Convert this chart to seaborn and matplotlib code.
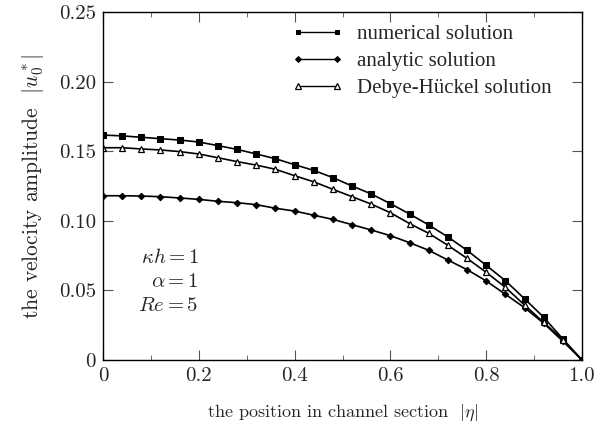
import numpy as np
import pandas as pd
import matplotlib
matplotlib.use("Agg")
import matplotlib.pyplot as plt
import seaborn as sns
from matplotlib.ticker import MultipleLocator, FixedLocator

eta = [0.00, 0.04, 0.08, 0.12, 0.16, 0.20, 0.24, 0.28, 0.32, 0.36, 0.40, 0.44, 0.48,
       0.52, 0.56, 0.60, 0.64, 0.68, 0.72, 0.76, 0.80, 0.84, 0.88, 0.92, 0.96, 1.00]
numerical = [0.1616, 0.1610, 0.1600, 0.1590, 0.1580, 0.1566, 0.1540, 0.1513, 0.1480,
             0.1446, 0.1403, 0.1362, 0.1310, 0.1250, 0.1193, 0.1123, 0.1049, 0.0970,
             0.0884, 0.0788, 0.0680, 0.0570, 0.0440, 0.0307, 0.0151, 0.0]
analytic = [0.1180, 0.1180, 0.1178, 0.1173, 0.1164, 0.1154, 0.1140, 0.1130, 0.1116,
            0.1090, 0.1070, 0.1040, 0.1010, 0.0972, 0.0934, 0.0893, 0.0843, 0.0788,
            0.0718, 0.0649, 0.0568, 0.0472, 0.0376, 0.0264, 0.0135, 0.0]
debye = [0.1525, 0.1525, 0.1516, 0.1509, 0.1497, 0.1480, 0.1453, 0.1425, 0.1400,
         0.1370, 0.1324, 0.1280, 0.1226, 0.1173, 0.1120, 0.1058, 0.0980, 0.0910,
         0.0824, 0.0730, 0.0630, 0.0522, 0.0395, 0.0270, 0.0145, 0.0]
labels = ["numerical solution", "analytic solution", "Debye-Hückel solution"]
xticks = [0, 0.2, 0.4, 0.6, 0.8, 1.0]
xticklabels = ["0", "0.2", "0.4", "0.6", "0.8", "1.0"]
yticks = [0, 0.05, 0.10, 0.15, 0.20, 0.25]
yticklabels = ["0", "0.05", "0.10", "0.15", "0.20", "0.25"]

sns.set_style("ticks")
plt.rcParams['font.family'] = ['cmr10', 'DejaVu Serif']
plt.rcParams['mathtext.fontset'] = 'cm'
plt.rcParams['axes.unicode_minus'] = False

fig = plt.figure(figsize=(6, 4.3), dpi=100)
ax = fig.add_axes([0.1717, 0.1628, 0.7983, 0.8093])

styles = [
    dict(marker='s', markersize=4.3, markerfacecolor='black', markeredgecolor='black'),
    dict(marker='D', markersize=3.3, markerfacecolor='black', markeredgecolor='black'),
    dict(marker='^', markersize=5.0, markerfacecolor='white', markeredgecolor='black', markeredgewidth=0.9),
]
for vals, lab, st in zip([numerical, analytic, debye], labels, styles):
    df = pd.DataFrame({"eta": eta, "u": vals})
    sns.lineplot(data=df, x="eta", y="u", ax=ax, color='black', linewidth=1.2,
                 label=lab, **st)

ax.set_xlim(0, 1.0)
ax.set_ylim(0, 0.25)
ax.xaxis.set_major_locator(FixedLocator(xticks))
ax.set_xticklabels(xticklabels)
ax.xaxis.set_minor_locator(MultipleLocator(0.1))
ax.yaxis.set_major_locator(FixedLocator(yticks))
ax.set_yticklabels(yticklabels)
ax.tick_params(which='major', direction='in', length=7, width=0.8, top=True, right=True,
               labelsize=15, pad=5, color='#555555')
ax.tick_params(which='minor', direction='in', length=3.5, width=0.6, top=True, right=True,
               color='#555555')
for s in ax.spines.values():
    s.set_linewidth(1.0)
    s.set_color('black')

ax.set_xlabel(r"the position in channel section  $|\eta|$", fontsize=13, labelpad=13)
ax.set_ylabel(r"the velocity amplitude  $|u_0^*|$", fontsize=15.5, labelpad=9)

ax.text(0.2, 0.0735, r"$\kappa h = 1$", ha='right', va='center', fontsize=15)
ax.text(0.2, 0.056, r"$\alpha = 1$", ha='right', va='center', fontsize=15)
ax.text(0.2, 0.039, r"$Re = 5$", ha='right', va='center', fontsize=15)

leg = ax.legend(loc='upper left', bbox_to_anchor=(0.355, 1.017), frameon=False,
                prop={'family': 'Liberation Serif', 'size': 15}, handlelength=2.45,
                handletextpad=0.7, labelspacing=0.35, numpoints=2)
for h, ms in zip(leg.legend_handles, [3.5, 3.0, 4.0]):
    h.set_markersize(ms)
    h.set_linewidth(1.0)

fig.savefig("out.png", dpi=100)
